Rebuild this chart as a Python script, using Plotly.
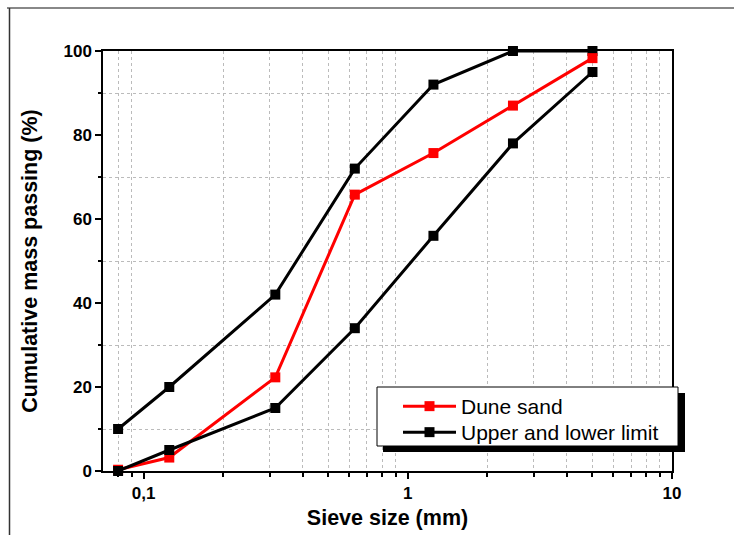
import plotly.graph_objects as go

# Sieve openings (mm)
sieve_mm = [0.08, 0.125, 0.315, 0.63, 1.25, 2.5, 5]

# Cumulative mass passing (%)
dune_sand = [0.3, 3.2, 22.3, 65.8, 75.7, 87.0, 98.3]
upper_limit = [10, 20, 42, 72, 92, 100, 100]
lower_limit = [0, 5, 15, 34, 56, 78, 95]

x_tick_vals = [0.1, 1, 10]
x_tick_text = ["0,1", "1", "10"]
x_minor_vals = [0.08, 0.09, 0.2, 0.3, 0.4, 0.5, 0.6, 0.7, 0.8, 0.9,
                2, 3, 4, 5, 6, 7, 8, 9]
y_tick_vals = [0, 20, 40, 60, 80, 100]
y_minor_vals = [10, 30, 50, 70, 90]

W, H = 734, 535
L, R, T, B = 103, 62, 51, 64
PW, PH = W - L - R, H - T - B


def px_x(p):
    return (p - L) / PW


def px_y(p):
    return (H - B - p) / PH


FONT = "Liberation Sans, Arial, sans-serif"

fig = go.Figure()

fig.add_trace(go.Scatter(
    x=sieve_mm, y=upper_limit, mode="lines+markers",
    name="Upper and lower limit", legendgroup="limits", legend="legend2",
    line=dict(color="black", width=3),
    marker=dict(symbol="square", size=10, color="black"),
    cliponaxis=False,
))
fig.add_trace(go.Scatter(
    x=sieve_mm, y=dune_sand, mode="lines+markers",
    name="Dune sand", legend="legend",
    line=dict(color="#ff0000", width=3),
    marker=dict(symbol="square", size=10, color="#ff0000"),
    cliponaxis=False,
))
fig.add_trace(go.Scatter(
    x=sieve_mm, y=lower_limit, mode="lines+markers",
    name="Upper and lower limit", legendgroup="limits", showlegend=False,
    line=dict(color="black", width=3),
    marker=dict(symbol="square", size=10, color="black"),
    cliponaxis=False,
))

tick_font = dict(family=FONT, size=17, color="black", weight="bold")
title_font = dict(family=FONT, size=21.5, color="black", weight="bold")

fig.update_xaxes(
    type="log", range=[-1.154, 1.0], automargin=False,
    tickmode="array", tickvals=x_tick_vals, ticktext=x_tick_text,
    ticks="outside", ticklen=6, tickwidth=1.5, tickcolor="black",
    tickfont=tick_font,
    showline=True, linecolor="black", linewidth=1.5, mirror=True,
    showgrid=False, zeroline=False,
    minor=dict(tickmode="array", tickvals=x_minor_vals, ticks="outside",
               ticklen=4, tickwidth=1.5, tickcolor="black",
               showgrid=True, gridcolor="#bbbbbb", gridwidth=1,
               griddash="3px,3px"),
    title=dict(text="Sieve size (mm)", font=title_font, standoff=8),
)
fig.update_yaxes(
    range=[0, 100], automargin=False,
    tickmode="array", tickvals=y_tick_vals,
    ticks="outside", ticklen=6, tickwidth=1.5, tickcolor="black",
    tickfont=tick_font,
    showline=True, linecolor="black", linewidth=1.5, mirror=True,
    showgrid=False, zeroline=False,
    minor=dict(tickmode="array", tickvals=y_minor_vals, ticks="outside",
               ticklen=3, tickwidth=1.5, tickcolor="black",
               showgrid=True, gridcolor="#bbbbbb", gridwidth=1,
               griddash="3px,3px"),
    title=dict(text="Cumulative mass passing (%)", font=title_font, standoff=20),
)

# legend panel: drop shadow, then white box with black border
fig.add_shape(type="rect", xref="paper", yref="paper",
              x0=px_x(383), x1=px_x(685), y0=px_y(452), y1=px_y(393),
              fillcolor="black", line=dict(width=0), layer="above")
fig.add_shape(type="rect", xref="paper", yref="paper",
              x0=px_x(377), x1=px_x(678), y0=px_y(446), y1=px_y(387),
              fillcolor="white", line=dict(color="black", width=1), layer="above")
# outer frame lines
fig.add_shape(type="line", xref="paper", yref="paper",
              x0=px_x(7), x1=px_x(734), y0=px_y(8), y1=px_y(8),
              line=dict(color="#888888", width=2))
fig.add_shape(type="line", xref="paper", yref="paper",
              x0=px_x(9.5), x1=px_x(9.5), y0=px_y(8), y1=px_y(535),
              line=dict(color="#333333", width=1.5))

legend_style = dict(xanchor="left", yanchor="top",
                    bgcolor="rgba(0,0,0,0)", borderwidth=0,
                    font=dict(family=FONT, size=21, color="black"),
                    itemwidth=53)

fig.update_layout(
    width=W, height=H,
    margin=dict(l=L, r=R, t=T, b=B, autoexpand=False),
    paper_bgcolor="white", plot_bgcolor="white",
    showlegend=True,
    legend=dict(x=px_x(398), y=px_y(386), **legend_style),
    legend2=dict(x=px_x(398), y=px_y(412), **legend_style),
)

fig.write_html("out.html")
